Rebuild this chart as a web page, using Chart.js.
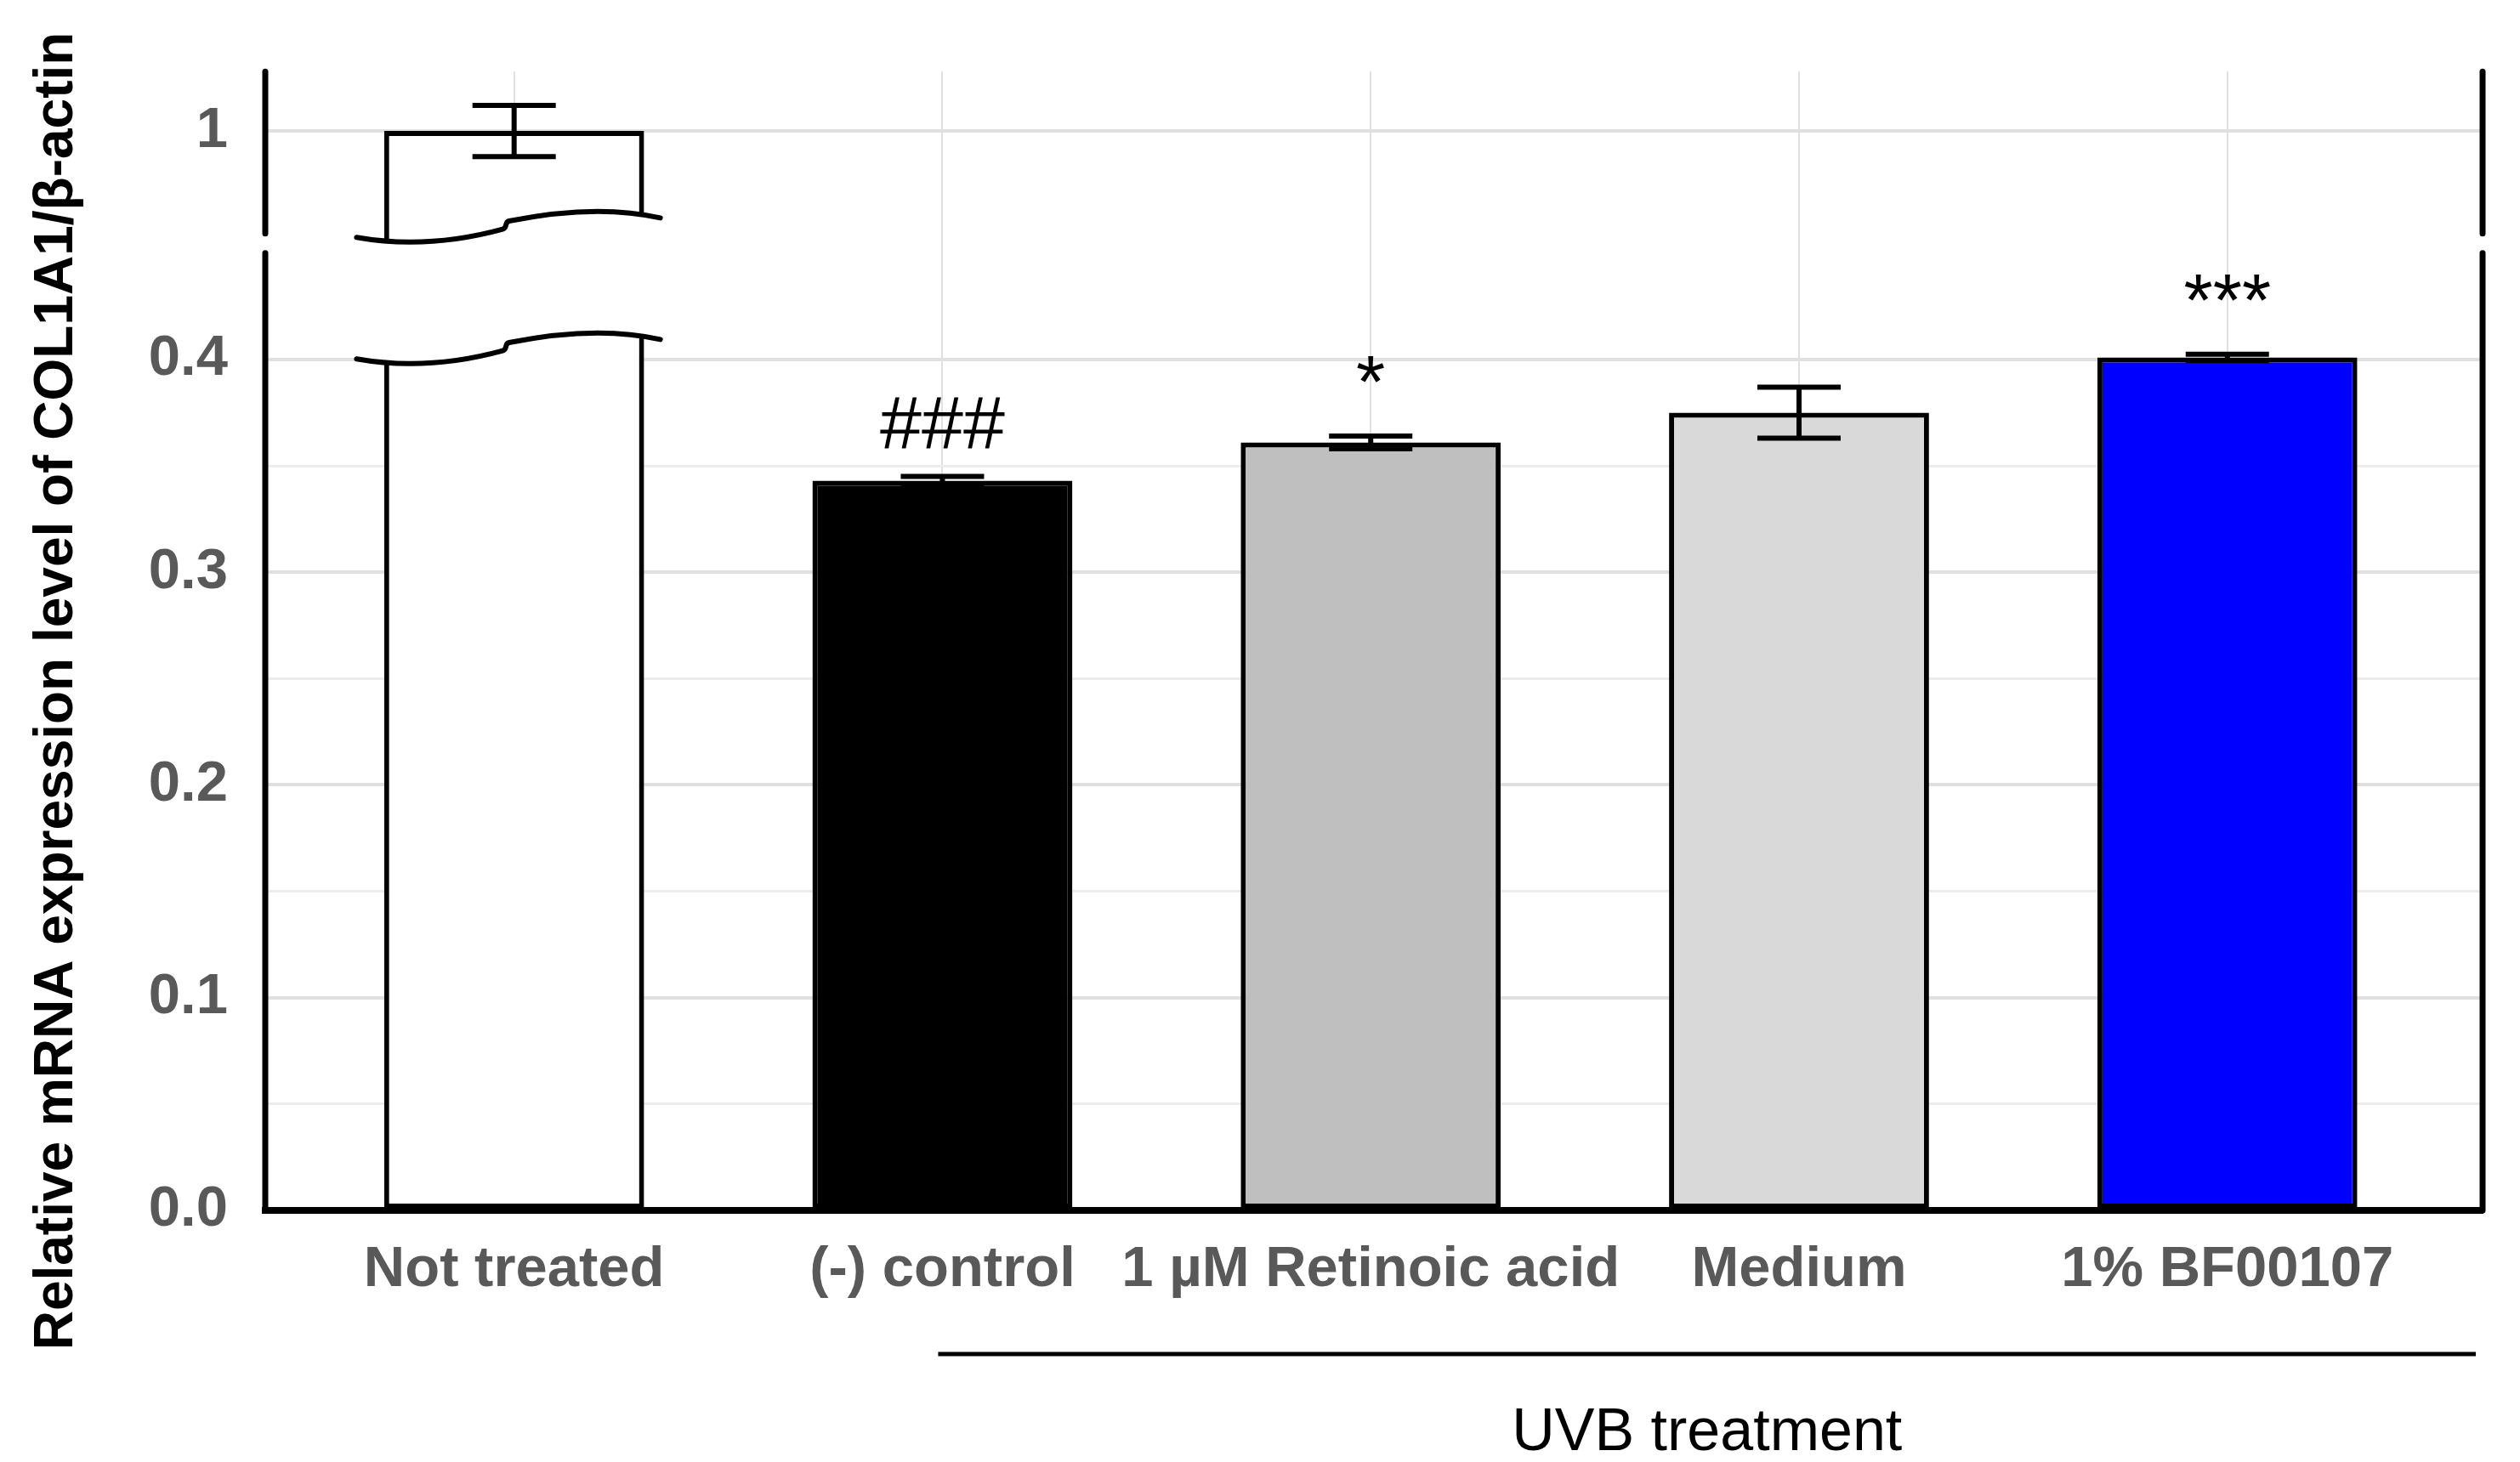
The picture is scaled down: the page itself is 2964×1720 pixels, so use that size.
<!DOCTYPE html>
<html>
<head>
<meta charset="utf-8">
<title>COL1A1 mRNA expression</title>
<script src="https://cdn.jsdelivr.net/npm/chart.js@4.4.1/dist/chart.umd.min.js"></script>
<style>
html, body { margin: 0; padding: 0; background: #ffffff; }
#wrap { width: 2964px; height: 1720px; position: relative; }
</style>
</head>
<body>
<div id="wrap"><canvas id="chart"></canvas></div>
<script>
// values
const categories = ['Not treated', '(-) control', '1 µM Retinoic acid', 'Medium', '1% BF00107'];
const values = [1.0, 0.343, 0.361, 0.375, 0.401];
const errors = [0.012, 0.002, 0.003, 0.012, 0.0015];
const marks = ['', '###', '*', '', '***'];
const fills = ['#ffffff', '#000000', '#bfbfbf', '#d9d9d9', '#0000ff'];
const lowTicks = [0, 0.05, 0.1, 0.15, 0.2, 0.25, 0.3, 0.35, 0.4];
const topTicks = [1];
const groupLabel = 'UVB treatment';
const yTitle = 'Relative mRNA expression level of COL1A1/β-actin';

// broken axis: lower part and upper part
const LOW_MIN = 0, LOW_MAX = 0.45;
const TOP_MIN = 0.9426, TOP_MAX = 1.0279;

const lowData = values.map((v, i) => ({ x: i, y: Math.min(v, LOW_MAX) }));
const topData = values.map((v, i) => ({ x: i, y: v > TOP_MIN ? v : null }));

Chart.defaults.font.family = "'Liberation Sans', Arial, sans-serif";

// shape of the break mark, in units of bar width
const W0 = [-0.606, 0.044], C1 = [-0.335, 0.092], W1 = [-0.044, 0.0125];
const C2a = [-0.024, 0.007], C2b = [-0.039, -0.015], W2 = [-0.019, -0.019];
const C3 = [0.316, -0.087], W3 = [0.5625, -0.031];

function wave(ctx, cx, w, y, reverse, move) {
	const p = (q) => [cx + q[0] * w, y + q[1] * w];
	if (!reverse) {
		const s = p(W0);
		if (move) ctx.moveTo(s[0], s[1]); else ctx.lineTo(s[0], s[1]);
		ctx.quadraticCurveTo(...p(C1), ...p(W1));
		ctx.bezierCurveTo(...p(C2a), ...p(C2b), ...p(W2));
		ctx.quadraticCurveTo(...p(C3), ...p(W3));
	} else {
		const s = p(W3);
		if (move) ctx.moveTo(s[0], s[1]); else ctx.lineTo(s[0], s[1]);
		ctx.quadraticCurveTo(...p(C3), ...p(W2));
		ctx.bezierCurveTo(...p(C2b), ...p(C2a), ...p(W1));
		ctx.quadraticCurveTo(...p(C1), ...p(W0));
	}
}

const brokenAxisPlugin = {
	id: 'brokenAxis',
	afterDatasetsDraw(chart) {
		const ctx = chart.ctx;
		const area = chart.chartArea;
		const xs = chart.scales.x, yLow = chart.scales.yLow, yTop = chart.scales.yTop;
		const meta = chart.getDatasetMeta(0);
		ctx.save();
		// break marks over bars that run past the lower range
		values.forEach((v, i) => {
			if (v <= LOW_MAX) return;
			const bar = meta.data[i];
			const w = bar.width;
			const upper = yTop.bottom - 32;
			const lower = yLow.top + 111;
			ctx.beginPath();
			wave(ctx, bar.x, w, upper, false, true);
			wave(ctx, bar.x, w, lower, true, false);
			ctx.closePath();
			ctx.fillStyle = '#ffffff';
			ctx.fill();
			ctx.strokeStyle = '#000000';
			ctx.lineWidth = 6;
			ctx.lineCap = 'round';
			ctx.beginPath();
			wave(ctx, bar.x, w, upper, false, true);
			ctx.stroke();
			ctx.beginPath();
			wave(ctx, bar.x, w, lower, false, true);
			ctx.stroke();
		});
		// error bars and significance marks
		values.forEach((v, i) => {
			const sc = v > LOW_MAX ? yTop : yLow;
			const cx = xs.getPixelForValue(i);
			const hi = sc.getPixelForValue(v + errors[i]);
			const lo = sc.getPixelForValue(v - errors[i]);
			ctx.strokeStyle = '#000000';
			ctx.lineCap = 'butt';
			ctx.lineWidth = 6;
			ctx.beginPath();
			ctx.moveTo(cx, hi);
			ctx.lineTo(cx, lo);
			ctx.stroke();
			ctx.lineWidth = 6;
			ctx.beginPath();
			ctx.moveTo(cx - 49, hi);
			ctx.lineTo(cx + 49, hi);
			ctx.moveTo(cx - 49, lo);
			ctx.lineTo(cx + 49, lo);
			ctx.stroke();
			if (marks[i]) {
				ctx.fillStyle = '#000000';
				ctx.font = "88px 'Liberation Sans', Arial, sans-serif";
				ctx.textAlign = 'center';
				ctx.textBaseline = 'alphabetic';
				ctx.fillText(marks[i], cx, hi - 34);
			}
		});
		// left and right axis lines with the gap
		ctx.strokeStyle = '#000000';
		ctx.lineWidth = 7;
		ctx.lineCap = 'round';
		[area.left, area.right].forEach(px => {
			ctx.beginPath();
			ctx.moveTo(px, yTop.top);
			ctx.lineTo(px, yTop.bottom - 23);
			ctx.moveTo(px, yLow.top);
			ctx.lineTo(px, yLow.bottom);
			ctx.stroke();
		});
		ctx.restore();
	},
	afterDraw(chart) {
		const ctx = chart.ctx;
		const area = chart.chartArea;
		const xs = chart.scales.x;
		ctx.save();
		// y title
		ctx.translate(67, 813);
		ctx.rotate(-Math.PI / 2);
		ctx.fillStyle = '#000000';
		ctx.font = "bold 64px 'Liberation Sans', Arial, sans-serif";
		ctx.textAlign = 'center';
		ctx.textBaseline = 'middle';
		ctx.fillText(yTitle, 0, 0);
		ctx.restore();
		// group line under the UVB treated bars
		ctx.save();
		const x0 = xs.getPixelForValue(1) - 5;
		const x1 = area.right - 8;
		ctx.strokeStyle = '#000000';
		ctx.lineWidth = 5;
		ctx.beginPath();
		ctx.moveTo(x0, 1593);
		ctx.lineTo(x1, 1593);
		ctx.stroke();
		ctx.fillStyle = '#000000';
		ctx.font = "70px 'Liberation Sans', Arial, sans-serif";
		ctx.textAlign = 'center';
		ctx.textBaseline = 'alphabetic';
		ctx.fillText(groupLabel, (x0 + x1) / 2, 1706);
		ctx.restore();
	}
};

const barCommon = {
	backgroundColor: fills,
	borderColor: '#000000',
	borderWidth: 6,
	borderSkipped: false,
	grouped: false,
	categoryPercentage: 1,
	barPercentage: 0.607
};

new Chart(document.getElementById('chart'), {
	type: 'bar',
	data: {
		datasets: [
			Object.assign({ label: 'low', data: lowData, xAxisID: 'x', yAxisID: 'yLow' }, barCommon),
			Object.assign({ label: 'top', data: topData, xAxisID: 'x', yAxisID: 'yTop' }, barCommon)
		]
	},
	options: {
		responsive: true,
		maintainAspectRatio: false,
		animation: false,
		layout: { padding: { left: 0, top: 82, right: 44, bottom: 0 } },
		plugins: { legend: { display: false }, tooltip: { enabled: false } },
		scales: {
			x: {
				type: 'linear',
				offset: false,
				min: -0.581,
				max: 4.596,
				afterBuildTicks: (scale) => { scale.ticks = categories.map((c, i) => ({ value: i })); },
				afterFit: (scale) => { scale.height = 296; },
				grid: { offset: false, color: '#e0e0e0', lineWidth: 2, drawTicks: false },
				border: { display: true, color: '#000000', width: 8 },
				ticks: {
					autoSkip: false,
					maxRotation: 0,
					minRotation: 0,
					padding: 30,
					color: '#595959',
					font: { size: 67, weight: 'bold' },
					callback: (value) => categories[Math.round(value)]
				}
			},
			yLow: {
				type: 'linear',
				position: 'left',
				stack: 'y',
				stackWeight: 1128,
				min: LOW_MIN,
				max: LOW_MAX,
				afterBuildTicks: (scale) => { scale.ticks = lowTicks.map(v => ({ value: v })); },
				afterFit: (scale) => { scale.width = 312; },
				grid: {
					drawTicks: false,
					lineWidth: (c) => (Math.round(c.tick.value * 100) % 10 === 0 ? 4 : 3),
					color: (c) => (Math.round(c.tick.value * 100) % 10 === 0 ? '#e0e0e0' : '#ececec')
				},
				border: { display: false },
				ticks: {
					padding: 44,
					color: '#595959',
					font: { size: 67, weight: 'bold' },
					callback: (v) => (Math.round(v * 100) % 10 === 0 ? v.toFixed(1) : '')
				}
			},
			yTop: {
				type: 'linear',
				position: 'left',
				stack: 'y',
				stackWeight: 214,
				min: TOP_MIN,
				max: TOP_MAX,
				afterBuildTicks: (scale) => { scale.ticks = topTicks.map(v => ({ value: v })); },
				afterFit: (scale) => { scale.width = 312; },
				grid: { drawTicks: false, lineWidth: 4, color: '#e0e0e0' },
				border: { display: false },
				ticks: {
					padding: 44,
					color: '#595959',
					font: { size: 67, weight: 'bold' },
					callback: (v) => String(v)
				}
			}
		}
	},
	plugins: [brokenAxisPlugin]
});
</script>
</body>
</html>
